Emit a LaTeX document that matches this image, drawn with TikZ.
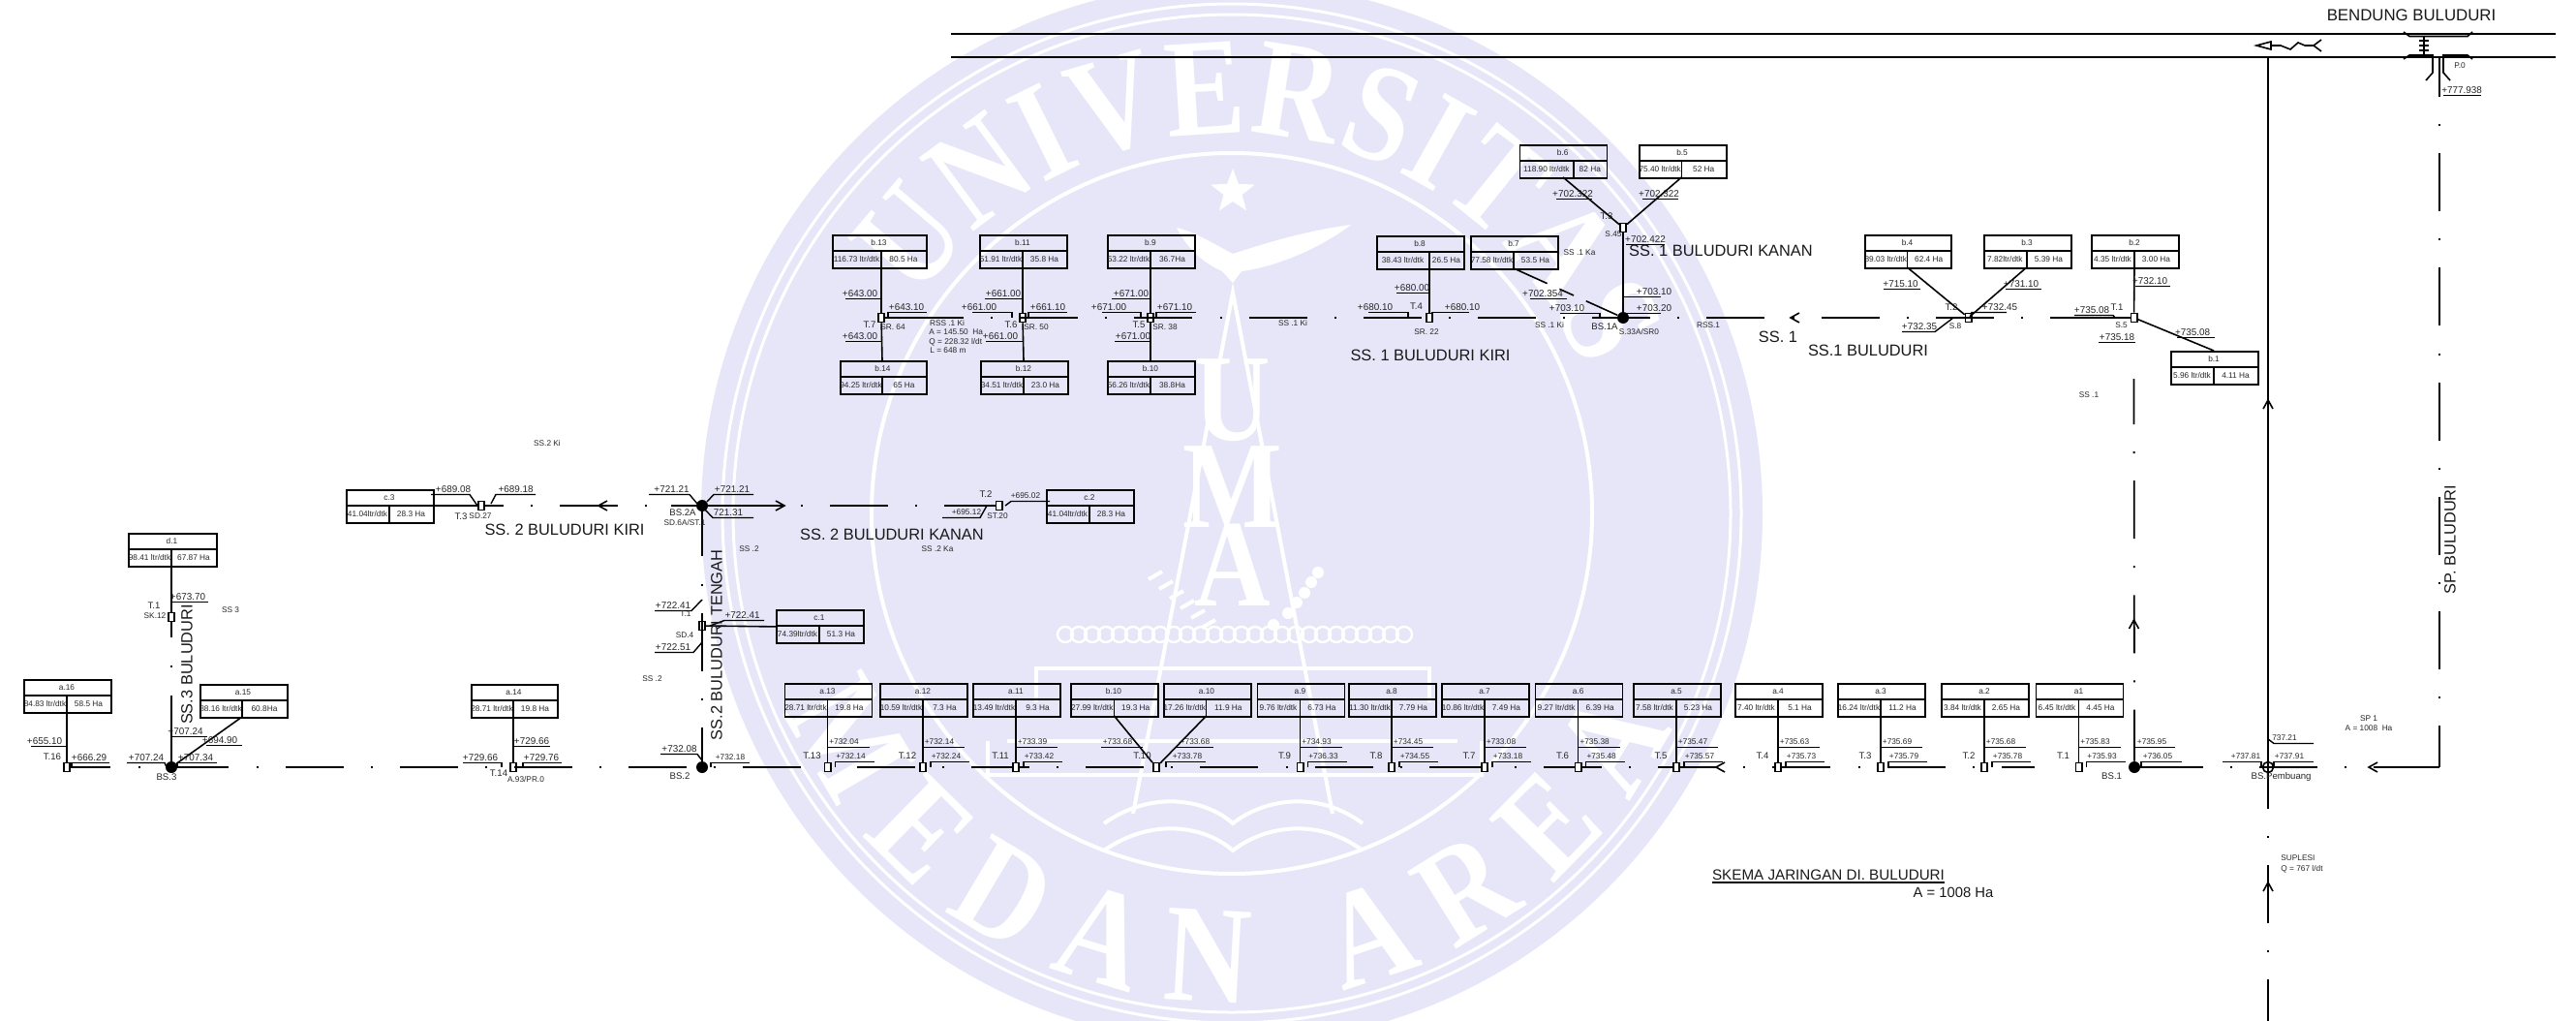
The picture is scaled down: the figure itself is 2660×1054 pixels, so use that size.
\documentclass[tikz,border=0pt]{standalone}
\usepackage{fontspec}
\usepackage{xcolor}
\usetikzlibrary{shapes.geometric,decorations.text}
\setmainfont{Liberation Sans}
\newfontfamily\wmfont[FakeStretch=0.85]{Liberation Serif}
\definecolor{ungu}{HTML}{E6E6F8}

\tikzset{
  kanal/.style={line width=.9pt, dash pattern=on 30pt off 14.1pt on 1pt off 14pt},
  garis/.style={line width=.8pt},
  muka/.style={line width=.7pt},
  petakbox/.style={draw, line width=.9pt, anchor=north west, minimum height=17pt, inner sep=0pt},
  pintu/.style={draw, fill=white, line width=.8pt, minimum width=3.2pt, minimum height=4.5pt, inner sep=0pt},
  bangunan/.style={circle, fill=black, minimum size=6pt, inner sep=0pt},
  teks/.style={inner sep=0pt, text=black!85, font=\fontsize{4.15}{5}\selectfont},
  kecil/.style={teks},
  besar/.style={inner sep=0pt, text=black!85, font=\fontsize{4.95}{6}\selectfont},
  teksT/.style={inner sep=0pt, text=black!85, font=\fontsize{4.8}{6}\selectfont},
  judul/.style={inner sep=0pt, text=black!90, font=\fontsize{8.2}{10}\selectfont},
  logo/.style={white, line width=2pt},
  hurufuma/.style={inner sep=0pt, text=white, font=\wmfont\bfseries\fontsize{64}{64}\selectfont}
}

% box of one tertiary plot: name, left, top, width, divider, title, discharge, area
\newcommand{\petak}[8]{%
  \pgfmathsetmacro{\xtengah}{(#2+#5)/2}%
  \pgfmathsetmacro{\xkanan}{(#2+#4+#5)/2}%
  \pgfmathsetmacro{\xjudul}{#2+#4/2}%
  \pgfmathsetmacro{\ybaris}{#3+17}%
  \node[petakbox, minimum width=#4*.5pt] (#1) at (#2,#3) {};
  \draw[garis] (#2,\ybaris) -- ++(#4,0);
  \draw[garis] (#5,\ybaris) -- (#5,#3+34) coordinate (#1-b);
  \node[teks] (#1-j) at (\xjudul,#3+8.5) {#6};
  \node[teks] (#1-q) at (\xtengah,#3+25.5) {#7};
  \node[teks] (#1-h) at (\xkanan,#3+25.5) {#8};
}

% water level: style, x, y, text, underline from, underline to, rest of the path
\newcounter{nmuka}
\newcommand{\muka}[7]{%
  \stepcounter{nmuka}%
  \node[#1] (m\arabic{nmuka}) at (#2,#3) {#4};
  \draw[muka] (#5,#3+5.5) -- (#6,#3+5.5) #7;
}

\begin{document}
\begin{tikzpicture}[x=.5pt,y=-.5pt]
  \useasboundingbox (0,0) rectangle (2660,1054);
  \clip (0,0) rectangle (2660,1054);

  % Watermark
  \fill[ungu] (1272,530) circle[radius=548];
  \draw[white,line width=1.5pt] (1272,530) circle[radius=526];
  \draw[white,line width=1.5pt] (1272,530) circle[radius=515];
  \draw[white,line width=2pt] (1272,530) circle[radius=372];
  \begin{scope}[shift={(1272,530)},x=.5pt,y=.5pt]
    \path[decorate,decoration={text along path,text color=white,text align=fit to path,
      text={|\wmfont\bfseries\fontsize{72}{72}\selectfont|UNIVERSITAS}}]
      (146:392) arc[start angle=146,end angle=22,radius=392];
    \path[decorate,decoration={text along path,text color=white,text align=fit to path,
      text={|\wmfont\bfseries\fontsize{72}{72}\selectfont|MEDAN AREA}}]
      (204:505) arc[start angle=204,end angle=334,radius=505];
  \end{scope}
  \node[star,star points=5,star point ratio=2.4,fill=white,minimum size=24pt,inner sep=0pt] (bintang) at (1273,198) {};
  \fill[white] (1273,262) .. controls (1250,250) and (1235,240) .. (1215,235) .. controls (1225,255) and (1240,270) .. (1262,280) -- (1273,292) -- (1282,280) .. controls (1320,275) and (1365,255) .. (1395,232) .. controls (1350,238) and (1310,250) .. cycle;
  \draw[logo] (1170,840) -- (1273,302) -- (1376,840);
  \node[hurufuma] (hurufU) at (1273,413) {U};
  \node[hurufuma] (hurufM) at (1273,503) {M};
  \node[hurufuma] (hurufA) at (1273,583) {A};
  \foreach \x in {1100,1114,...,1450} \draw[white,line width=1.2pt] (\x,655) circle[radius=8];
  \draw[logo] (1070,725) -- (1070,690) -- (1476,690) -- (1476,725);
  \draw[logo] (1040,765) -- (1505,765);
  \draw[logo] (1020,765) -- (1020,800) -- (1530,800) -- (1530,765);
  \draw[logo] (1140,850) .. controls (1190,815) and (1245,825) .. (1273,850) .. controls (1305,825) and (1360,815) .. (1407,850);
  \draw[logo] (1140,878) .. controls (1190,843) and (1245,853) .. (1273,878) .. controls (1305,853) and (1360,843) .. (1407,878);
  \foreach \x/\y in {1200/590,1211/600,1222/610,1233/620,1244/630,1255/640} \draw[logo] (\x,\y) -- ++(-14,8);
  \foreach \x/\y in {1361/591,1354/601,1347/612,1339/622,1330/633,1315/645} \fill[white] (\x,\y) circle[radius=6];

  % Intake and main canals at the top
  \draw[garis] (982,35) -- (2639,35);
  \draw[garis] (982,59) -- (2639,59);
  \draw[garis] (2482,33) -- (2488,37.5) -- (2548,37.5) -- (2553,33);
  \draw[garis] (2482,61) -- (2488,57) -- (2512,57) -- (2512,75) -- (2505,83);
  \draw[garis] (2553,61) -- (2548,57) -- (2523,57) -- (2523,75) -- (2530,83);
  \draw[garis] (2503,37) -- (2503,57);
  \foreach \y in {42,47,52} \draw[garis] (2498,\y) -- (2508,\y);
  \draw[garis] (2330,47) -- (2345,43) -- (2345,51) -- cycle;
  \draw[garis] (2345,47) -- (2355,47) -- (2365,51) -- (2373,44) -- (2380,47) -- (2389,47);
  \draw[garis] (2397,41) -- (2389,47) -- (2397,53);

  \coordinate (hulu) at (2519,59);
  \coordinate (sudut) at (2519,792);
  \coordinate (suplesi) at (2342,1054);
  \coordinate (pembuang) at (2342,59);
  \coordinate (sp1a) at (2215,792);
  \coordinate (sp1b) at (2452,792);
  \coordinate (ss1a) at (935,328);
  \coordinate (ss1b) at (2177,328);
  \coordinate (ss1c) at (2117,328);
  \coordinate (ss3a) at (2101,792);
  \coordinate (ss2k) at (693,522);
  \coordinate (ss2ka) at (739,522);
  \coordinate (ss2kb) at (810,522);
  \coordinate (bs1e) at (2275,792);
  \coordinate (t5e) at (1113,328);
  \coordinate (ss1d) at (2203.5,391);
  \coordinate (bsp) at (2342,792);

  % Structures
  \node[bangunan] (BS3) at (177,792) {};
  \node[bangunan] (BS2) at (725,792) {};
  \node[bangunan] (BS2A) at (725,522) {};
  \node[bangunan] (BS1) at (2204,792) {};
  \node[bangunan] (BS1A) at (1676,328) {};
  \node[pintu] (SD4) at (725,646) {};
  \node[pintu] (T16) at (69,792) {};
  \node[pintu] (T14) at (530,792) {};
  \node[pintu] (T3k) at (497,522) {};
  \node[pintu] (T2k) at (1031.5,522) {};
  \node[pintu] (T10) at (1194,792) {};
  \node[pintu] (SR64) at (910,328) {};
  \node[pintu] (SR50) at (1056,328) {};
  \node[pintu] (SR38) at (1188,328) {};
  \node[pintu] (SR22) at (1476,328) {};
  \node[pintu] (S45) at (1676,235) {};
  \node[pintu] (S8) at (2032.6,328) {};
  \node[pintu] (S5) at (2203.5,328) {};

  % Canals
  \draw[kanal,dash pattern=on 20.5pt off 14.5pt on 1pt off 14pt on 10pt] (T16) -- (BS3);
  \draw[kanal,dash phase=3.5pt] (BS3) -- (BS2);
  \draw[kanal,dash phase=41.5pt] (BS2) -- (ss3a);
  \draw[garis] (BS1) -- (bs1e);
  \draw[kanal] (sp1a) -- (sp1b);
  \draw[garis] (sp1b) -- (sudut);
  \draw[kanal,dash phase=9.5pt] (hulu) -- (sudut);
  \draw[kanal,dash phase=3.5pt] (BS1) -- (ss1d);
  \draw[kanal,dash phase=8.5pt] (bsp) -- (suplesi);
  \draw[garis] (pembuang) -- (bsp);
  \draw[kanal,dash phase=7pt] (BS2A) -- (BS2);
  \draw[kanal] (ss1a) -- (ss1b);
  \draw[garis] (SR64) -- (ss1a);
  \draw[garis] (SR50) -- (t5e);
  \draw[garis] (ss1c) -- (S5);
  \draw[kanal,dash phase=20.5pt] (T3k) -- (ss2k);
  \draw[garis] (ss2k) -- (BS2A);
  \draw[garis] (T3k) -- (438,522);
  \draw[garis] (BS2A) -- (ss2kb);
  \draw[kanal] (ss2ka) -- (T2k);

  % Flow arrows
  \foreach \x/\y/\r in {618/522/0,810/522/180,1772/792/0,1849/328/0,2446/792/0,2342/413/-90,2342/911/-90,2203.5/640/-90}
    \draw[garis,shift={(\x,\y)},rotate=\r] (9,-5) -- (0,0) -- (9,5);

  % Tertiary plots along the lower canal
  \foreach \nm/\V/\jd/\q/\ha/\ea/\eb/\tn in {
    a13/854.5/a.13/28.71/19.8 Ha/+732.04/+732.14/T.13,
    a12/953/a.12/10.59/7.3 Ha/+732.14/+732.24/T.12,
    a11/1049/a.11/13.49/9.3 Ha/+733.39/+733.42/T.11,
    a9/1342.5/a.9/9.76/6.73 Ha/+734.93/+736.33/T.9,
    a8/1437/a.8/11.30/7.79 Ha/+734.45/+734.55/T.8,
    a7/1533/a.7/10.86/7.49 Ha/+733.08/+733.18/T.7,
    a6/1629.6/a.6/9.27/6.39 Ha/+735.38/+735.48/T.6,
    a5/1731/a.5/7.58/5.23 Ha/+735.47/+735.57/T.5,
    a4/1836/a.4/7.40/5.1 Ha/+735.63/+735.73/T.4,
    a3/1942/a.3/16.24/11.2 Ha/+735.69/+735.79/T.3,
    a2/2049/a.2/3.84/2.65 Ha/+735.68/+735.78/T.2,
    a1/2146.5/a1/6.45/4.45 Ha/+735.83/+735.93/T.1} {
    \petak{\nm}{\V-45}{705}{90}{\V}{\jd}{\q{} ltr/dtk}{\ha}
    \node[pintu] (T\nm) at (\V,792) {};
    \draw[garis] (\nm-b) -- (T\nm);
    \node[teksT] (L\nm) at (\V-16,780) {\tn};
    \muka{kecil}{\V+17}{766}{\ea}{\V}{\V+43}{}
    \muka{kecil}{\V+24}{781}{\eb}{\V+48}{\V+8}{-- (\V+8,792)}
  }

  % Remaining plots, lower and left
  \petak{b10a}{1105}{705}{90}{1150.5}{b.10}{27.99 ltr/dtk}{19.3 Ha}
  \petak{a10}{1201}{705}{90}{1245.6}{a.10}{17.26 ltr/dtk}{11.9 Ha}
  \petak{a16}{24}{701}{90}{69}{a.16}{84.83 ltr/dtk}{58.5 Ha}
  \petak{d1}{132}{550}{91}{177}{d.1}{98.41 ltr/dtk}{67.87 Ha}
  \petak{a15}{206}{706}{90}{250}{a.15}{88.16 ltr/dtk}{60.8Ha}
  \petak{a14}{486}{706}{89}{530}{a.14}{28.71 ltr/dtk}{19.8 Ha}
  \petak{c3}{357}{505}{90}{402}{c.3}{41.04ltr/dtk}{28.3 Ha}
  \petak{c2}{1080}{505}{90}{1125}{c.2}{41.04ltr/dtk}{28.3 Ha}
  \petak{c1}{801}{629}{90}{846}{c.1}{74.39ltr/dtk}{51.3 Ha}
  \draw[garis] (b10a-b) -- (T10);
  \draw[garis] (a10-b) -- (T10);
  \draw[garis] (a16-b) -- (T16);
  \draw[garis,dash pattern=on 37pt off 14.5pt on 1pt off 14.5pt on 40pt] (d1-b) -- (BS3);
  \draw[garis] (a15-b) -- (BS3);
  \draw[garis] (a14-b) -- (T14);
  \draw[garis] (SD4) -- (c1.west);
  \node[pintu] (SK12) at (177,637) {};

  % Plots of the upper canal
  \petak{b13}{859}{242}{97}{910}{b.13}{116.73 ltr/dtk}{80.5 Ha}
  \petak{b14}{867}{372}{89}{911}{b.14}{94.25 ltr/dtk}{65 Ha}
  \petak{b11}{1011}{242}{90}{1056}{b.11}{51.91 ltr/dtk}{35.8 Ha}
  \petak{b12}{1012}{372}{90}{1057}{b.12}{34.51 ltr/dtk}{23.0 Ha}
  \petak{b9}{1143}{242}{90}{1188}{b.9}{53.22 ltr/dtk}{36.7Ha}
  \petak{b10}{1143}{372}{90}{1188}{b.10}{56.26 ltr/dtk}{38.8Ha}
  \petak{b8}{1421}{243}{90}{1476}{b.8}{38.43 ltr/dtk}{26.5 Ha}
  \petak{b7}{1518}{243}{90}{1563}{b.7}{77.58 ltr/dtk}{53.5 Ha}
  \petak{b6}{1568.6}{149}{90}{1625}{b.6}{118.90 ltr/dtk}{82 Ha}
  \petak{b5}{1692}{149}{90}{1736.4}{b.5}{75.40 ltr/dtk}{52 Ha}
  \petak{b4}{1925}{242}{89}{1969.4}{b.4}{89.03 ltr/dtk}{62.4 Ha}
  \petak{b3}{2048}{242}{90}{2092.7}{b.3}{7.82ltr/dtk}{5.39 Ha}
  \petak{b2}{2159}{242}{90}{2204}{b.2}{4.35 ltr/dtk}{3.00 Ha}
  \petak{b1}{2241}{362}{90}{2286}{b.1}{5.96 ltr/dtk}{4.11 Ha}
  \draw[garis] (b13-b) -- (SR64);
  \draw[garis] (b14-b |- b14.north) -- (SR64);
  \draw[garis] (b11-b) -- (SR50);
  \draw[garis] (b12-b |- b12.north) -- (SR50);
  \draw[garis] (b9-b) -- (SR38);
  \draw[garis] (b10-b |- b10.north) -- (SR38);
  \draw[garis] (b8-b) -- (SR22);
  \draw[garis,dash pattern=on 19pt off 7pt on 8pt off 7pt on 30pt] (b7-b) -- (BS1A);
  \draw[garis] (1614,183) -- (S45);
  \draw[garis] (b5-b) -- (S45);
  \draw[garis] (S45) -- (BS1A);
  \draw[garis] (b4-b) -- (S8);
  \draw[garis] (b3-b) -- (S8);
  \draw[garis] (b2-b) -- (S5);
  \draw[garis] (S5) -- (b1-b |- b1.north);

  % Water levels, left part
  \muka{besar}{194}{616}{+673.70}{177}{215}{}
  \muka{besar}{191.5}{755}{+707.24}{177}{214}{}
  \muka{besar}{227}{764}{+694.90}{213}{250}{}
  \muka{besar}{151}{782}{+707.24}{131}{170}{-- (172,792)}
  \muka{besar}{202}{782}{+707.34}{224}{183}{-- (183,792)}
  \muka{besar}{46}{765}{+655.10}{32}{69}{}
  \muka{besar}{92}{782}{+666.29}{113}{74}{-- (74,792)}
  \muka{besar}{549}{765}{+729.66}{530}{568}{}
  \muka{besar}{496}{782}{+729.66}{478}{518}{-- (518,792)}
  \muka{besar}{559}{782}{+729.76}{580}{540}{-- (540,792)}
  \muka{besar}{468}{505}{+689.08}{445}{485}{-- (493,522)}
  \muka{besar}{532.6}{505}{+689.18}{553}{512}{-- (507,520)}
  \muka{besar}{693.5}{505}{+721.21}{670}{712}{-- (720,520)}
  \muka{besar}{756}{505}{+721.21}{778}{737}{-- (730,518)}
  \muka{besar}{752}{529}{721.31}{778}{736}{-- (728,526)}
  \muka{kecil}{1059}{512}{+695.02}{1084}{1044}{-- (1038,522)}
  \muka{kecil}{998}{529}{+695.12}{973}{1012}{-- (1019,522)}
  \muka{besar}{766.6}{635}{+722.41}{789}{748}{-- (733,646)}
  \muka{besar}{695}{625}{+722.41}{676}{714}{-- (725,619)}
  \muka{besar}{695}{668}{+722.51}{676}{716}{-- (725,663)}
  \muka{besar}{701.5}{773}{+732.08}{682}{720}{-- (725,785)}
  \muka{kecil}{754}{782}{+732.18}{774}{734}{-- (734,792)}
  % Water levels, lower canal
  \muka{kecil}{1154}{766}{+733.68}{1137}{1180}{}
  \muka{kecil}{1234}{766}{+733.68}{1213}{1253}{}
  \muka{kecil}{1226}{781}{+733.78}{1245}{1204}{-- (1204,792)}
  \muka{kecil}{2222}{766}{+735.95}{2204}{2246}{}
  \muka{kecil}{2228}{781}{+736.05}{2253}{2211}{-- (2211,792)}
  \muka{kecil}{2319}{781}{+737.81}{2295}{2335}{-- (2335,792)}
  \muka{kecil}{2364}{781}{+737.91}{2389}{2348}{-- (2348,792)}
  \muka{kecil}{2359}{762}{737.21}{2389}{2348}{-- (2342,763)}
  % Water levels, upper canal
  \muka{besar}{888}{303}{+643.00}{873}{910}{}
  \muka{besar}{936}{317}{+643.10}{957}{917}{-- (917,328)}
  \muka{besar}{888}{347}{+643.00}{873}{910}{}
  \muka{besar}{1036}{303}{+661.00}{1017}{1056}{}
  \muka{besar}{1011}{317}{+661.00}{1004}{1045}{-- (1045,328)}
  \muka{besar}{1082}{317}{+661.10}{1102}{1062}{-- (1062,328)}
  \muka{besar}{1033}{347}{+661.00}{1018}{1056}{}
  \muka{besar}{1168}{303}{+671.00}{1148}{1188}{}
  \muka{besar}{1145}{317}{+671.00}{1138}{1178}{-- (1178,328)}
  \muka{besar}{1213}{317}{+671.10}{1235}{1194}{-- (1194,328)}
  \muka{besar}{1170}{347}{+671.00}{1151}{1188}{}
  \muka{besar}{1458}{297}{+680.00}{1442}{1477}{}
  \muka{besar}{1420}{317}{+680.10}{1413}{1454}{-- (1454,328)}
  \muka{besar}{1510}{317}{+680.10}{1517}{1479}{-- (1479,328)}
  \muka{besar}{1593}{303}{+702.354}{1580}{1618}{}
  \muka{besar}{1618}{318}{+703.10}{1611}{1652}{-- (1652,328)}
  \muka{besar}{1708}{301}{+703.10}{1677}{1715}{}
  \muka{besar}{1708}{318}{+703.20}{1677}{1715}{}
  \muka{besar}{1624}{200}{+702.322}{1607}{1644}{}
  \muka{besar}{1713}{200}{+702.322}{1696}{1733}{}
  \muka{besar}{1699}{247}{+702.422}{1679}{1719}{}
  \muka{besar}{1962.5}{293}{+715.10}{1945}{1983}{}
  \muka{besar}{2087}{293}{+731.10}{2071}{2108}{}
  \muka{besar}{2065}{317}{+732.45}{2072}{2036}{-- (2034,328)}
  \muka{besar}{1982}{337}{+732.35}{1964}{1998}{-- (2017,328)}
  \muka{besar}{2160}{320}{+735.08}{2142}{2182}{-- (2184,328)}
  \muka{besar}{2186}{348}{+735.18}{2167}{2205}{}
  \muka{besar}{2220}{290}{+732.10}{2205}{2241}{}
  \muka{besar}{2264}{343}{+735.08}{2248}{2287}{}
  \muka{besar}{2542}{93}{+777.938}{2523}{2562}{}

  % Structure names
  \foreach \nm/\x/\y/\lab in {n1/54/781/T.16,n2/159/625/T.1,n3/515/798/T.14,n4/476/533/T.3,
    n5/1018/510/T.2,n6/172/802/BS.3,n7/702/801/BS.2,n8/705/529/BS.2A,n9/898/335/T.7,
    n10/1044/335/T.6,n11/1176/335/T.5,n12/1462.5/316/T.4,n13/1659/223/T.3,n14/2015/317/T.2,
    n15/2186/317/T.1,n16/1657/337/BS.1A,n17/2180.6/801/BS.1,n18/2355.6/802/BS.Pembuang,
    n19/1179.5/780/T.10}
    \node[teksT] (\nm) at (\x,\y) {\lab};
  \foreach \nm/\x/\y/\lab in {s1/160/636/SK.12,s2/238/630/SS 3,s3/496/533/SD.27,s4/708/634/T.1,
    s5/707/656/SD.4,s6/1030/533/ST.20,s7/707/540/{SD.6A/ST.1},s8/543/805/{A.93/PR.0},
    s9/673.5/701/SS .2,s10/773.5/567/SS .2,s11/968/567/SS .2 Ka,s12/565/458/SS.2 Ki,
    s13/922/338/SR. 64,s14/1070/338/SR. 50,s15/1203/338/SR. 38,s16/1335/334/SS .1 Ki,
    s17/1473/343/SR. 22,s18/1600/336/SS .1 Ki,s19/1631/261/SS .1 Ka,s20/1666/242/S.45,
    s21/1692.5/343/{S.33A/SR0},s22/1764/336/RSS.1,s23/2019/337/S.8,s24/2190.6/336/S.5,
    s25/2157/408/SS .1,s26/2540/68/P.0,s27/2446/742/SP 1,s28/2446/752/A = 1008~~Ha,
    s29/978/334/RSS .1 Ki}
    \node[teks] (\nm) at (\x,\y) {\lab};
  \node[teks,anchor=west] (r1) at (959,343) {A = 145.50~~Ha};
  \node[teks,anchor=west] (r2) at (959,353) {Q = 228.32 l/dt};
  \node[teks,anchor=west] (r3) at (960,362) {L = 648 m};
  \node[teks,anchor=west] (sup1) at (2355,886) {SUPLESI};
  \node[teks,anchor=west] (sup2) at (2355,897) {Q = 767 l/dt};

  % BS Pembuang on top of its lines
  \node[draw,circle,line width=.8pt,minimum size=5.5pt,inner sep=0pt] (BSP) at (bsp) {};

  % Canal names
  \node[judul] (ssA) at (583,547) {SS. 2 BULUDURI KIRI};
  \node[judul] (ssB) at (921,552) {SS. 2 BULUDURI KANAN};
  \node[judul] (ssC) at (1477,367) {SS. 1 BULUDURI KIRI};
  \node[judul] (ssD) at (1777,259) {SS. 1 BULUDURI KANAN};
  \node[judul] (ssE) at (1836,348) {SS. 1};
  \node[judul] (ssF) at (1929,362) {SS.1 BULUDURI};
  \node[judul,rotate=90] (ssG) at (193,686) {SS.3 BULUDURI};
  \node[judul,rotate=90] (ssH) at (740,666) {SS.2 BULUDURI TENGAH};
  \node[judul,rotate=90] (ssI) at (2530,557) {SP. BULUDURI};
  \node[judul,font=\fontsize{8.4}{10}\selectfont] (bendung) at (2490,16) {BENDUNG BULUDURI};
  \node[judul,font=\fontsize{7.6}{9}\selectfont] (skema) at (1888,903) {SKEMA JARINGAN DI. BULUDURI};
  \draw[garis] (1768,911) -- (2008,911);
  \node[judul,font=\fontsize{7.4}{9}\selectfont] (luas) at (2017,921) {A = 1008 Ha};
\end{tikzpicture}
\end{document}
